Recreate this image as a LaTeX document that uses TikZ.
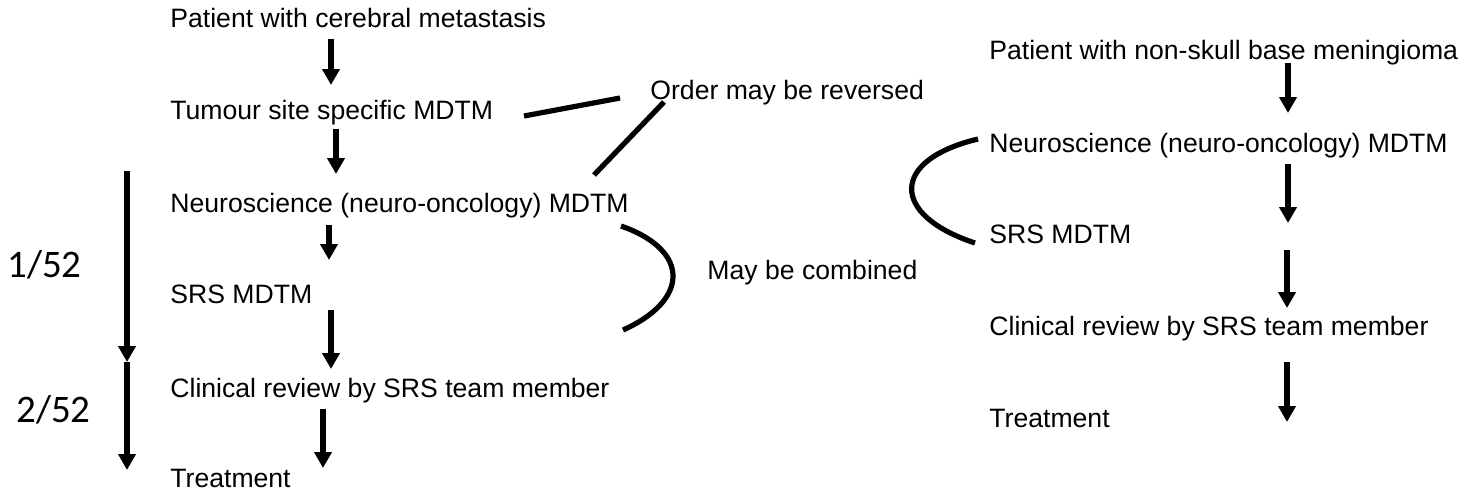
\documentclass[tikz,border=0pt]{standalone}
\usepackage{fontspec}
\setmainfont{Liberation Sans}
\newfontfamily\calfont{Carlito}
\usetikzlibrary{arrows.meta}
\begin{document}
\begin{tikzpicture}[x=0.5pt,y=-0.5pt,
  lbl/.style={anchor=base west,inner sep=0pt,font=\fontsize{13.3}{15}\selectfont},
  wk/.style={anchor=base west,inner sep=0pt,font=\calfont\fontsize{19.5}{23}\selectfont},
  arr/.style={line width=2.6pt,-{Triangle[width=8.5pt,length=8pt]}},
  ln/.style={line width=2.6pt}]
\useasboundingbox (0,0) rectangle (1476,495);
% left column
\node[lbl] (l1) at (170,27) {Patient with cerebral metastasis};
\node[lbl] (l2) at (170,119) {Tumour site specific MDTM};
\node[lbl] (l3) at (170,212) {Neuroscience (neuro-oncology) MDTM};
\node[lbl] (l4) at (170,303) {SRS MDTM};
\node[lbl] (l5) at (170,397) {Clinical review by SRS team member};
\node[lbl] (l6) at (170,487) {Treatment};
% right column
\node[lbl] (r1) at (989,59) {Patient with non-skull base meningioma};
\node[lbl] (r2) at (989,152) {Neuroscience (neuro-oncology) MDTM};
\node[lbl] (r3) at (989,243) {SRS MDTM};
\node[lbl] (r4) at (989,335) {Clinical review by SRS team member};
\node[lbl] (r5) at (989,427) {Treatment};
% notes
\node[lbl] (rev) at (650,99) {Order may be reversed};
\node[lbl] (comb) at (707,279) {May be combined};
\node[wk] (w1) at (7,277) {1/52};
\node[wk] (w2) at (16,422) {2/52};
% arrow coordinates
\coordinate (a1s) at (331,39);  \coordinate (a1e) at (331,85);
\coordinate (a2s) at (336,129); \coordinate (a2e) at (336,174);
\coordinate (a3s) at (329,225); \coordinate (a3e) at (329,260);
\coordinate (a4s) at (331,310); \coordinate (a4e) at (331,369);
\coordinate (a5s) at (323,409); \coordinate (a5e) at (323,468);
\coordinate (b1s) at (1288,63);  \coordinate (b1e) at (1288,113);
\coordinate (b2s) at (1288,164); \coordinate (b2e) at (1288,223);
\coordinate (b3s) at (1287,250); \coordinate (b3e) at (1287,308);
\coordinate (b4s) at (1287,362); \coordinate (b4e) at (1287,422);
\coordinate (t0) at (127,171); \coordinate (t1) at (127,362); \coordinate (t2) at (127,470);
\draw[arr] (a1s) -- (a1e);
\draw[arr] (a2s) -- (a2e);
\draw[arr] (a3s) -- (a3e);
\draw[arr] (a4s) -- (a4e);
\draw[arr] (a5s) -- (a5e);
\draw[arr] (b1s) -- (b1e);
\draw[arr] (b2s) -- (b2e);
\draw[arr] (b3s) -- (b3e);
\draw[arr] (b4s) -- (b4e);
\draw[arr] (t0) -- (t1);
\draw[arr] (t1) -- (t2);
% annotation lines
\coordinate (p1) at (524,116); \coordinate (p2) at (620,98);
\coordinate (q1) at (594,175); \coordinate (q2) at (664,102);
\draw[ln] (p1) -- (p2);
\draw[ln] (q1) -- (q2);
\coordinate (c1s) at (621,226); \coordinate (c1e) at (623,330);
\draw[ln] (c1s) .. controls (690,250) and (690,300) .. (c1e);
\coordinate (c2s) at (978,139); \coordinate (c2e) at (975,243);
\draw[ln] (c2s) .. controls (890,160) and (890,215) .. (c2e);
\end{tikzpicture}
\end{document}
